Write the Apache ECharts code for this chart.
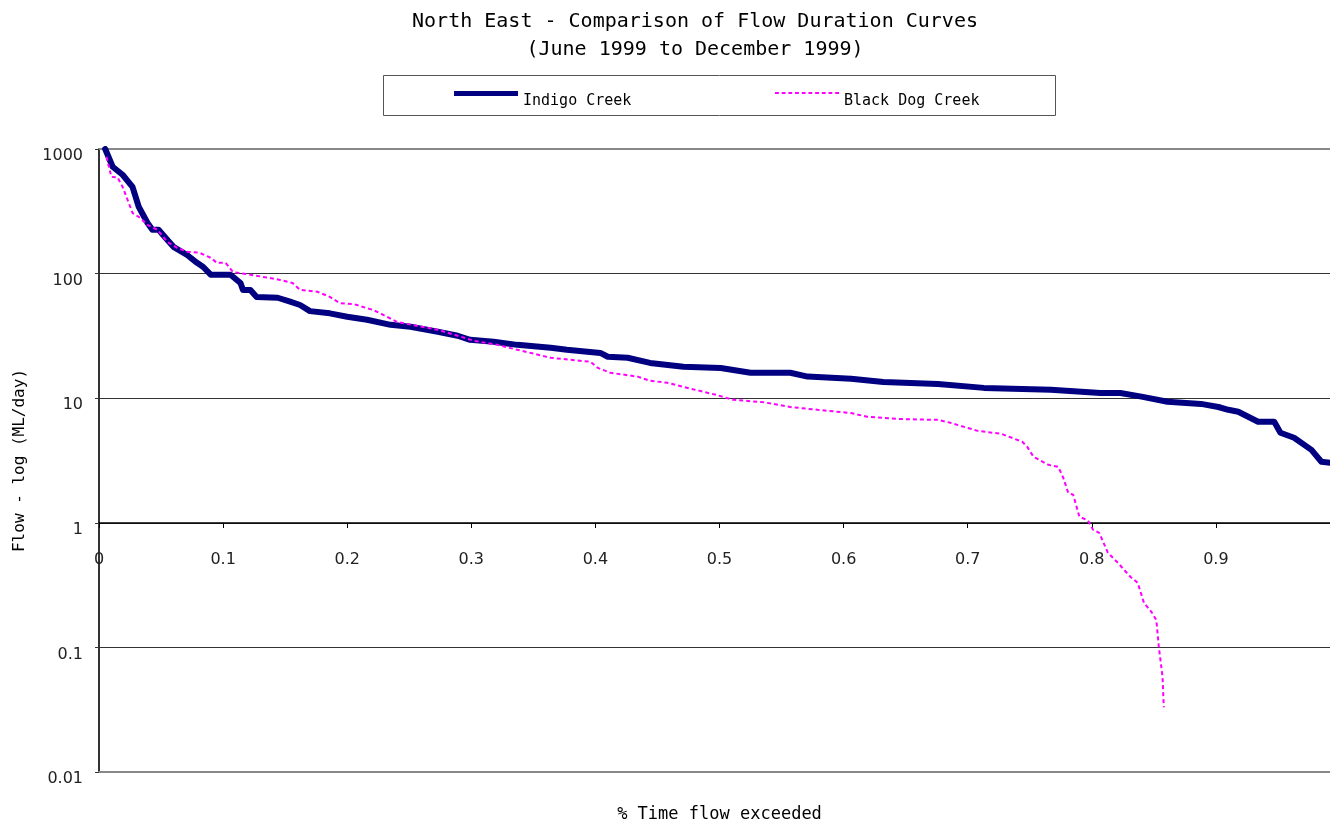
<!DOCTYPE html>
<html>
<head>
<meta charset="utf-8">
<script src="https://cdn.jsdelivr.net/npm/echarts@6/dist/echarts.min.js"></script>
<style>html,body{margin:0;padding:0;background:#fff;}#chart{width:1330px;height:826px;}</style>
</head>
<body>
<div id="chart"></div>
<script>
const titleLines = ['North East - Comparison of Flow Duration Curves', '(June 1999 to December 1999)'];
const seriesNames = ['Indigo Creek', 'Black Dog Creek'];
const yAxisName = 'Flow - log (ML/day)';
const xAxisName = '% Time flow exceeded';

const indigoX = [0.005,0.011,0.019,0.027,0.032,0.039,0.043,0.048,0.055,0.060,0.071,0.079,0.084,0.090,0.106,0.114,0.116,0.122,0.127,0.144,0.154,0.162,0.170,0.186,0.200,0.216,0.235,0.251,0.273,0.289,0.299,0.318,0.337,0.364,0.377,0.404,0.410,0.426,0.444,0.471,0.501,0.525,0.557,0.571,0.606,0.632,0.676,0.713,0.767,0.807,0.823,0.840,0.861,0.888,0.902,0.910,0.918,0.934,0.947,0.952,0.963,0.977,0.985,0.993,1.0];
const indigoY = [1000,720,621,497,344,256,225,225,187,164,141,122,113,98,98,84,74,74,65,64,59.5,56,50,48,45,42.6,38.8,37.4,34.1,31.7,29.4,28.4,26.8,25.4,24.5,23.1,21.5,21.1,19.2,17.9,17.5,16.0,16.0,14.9,14.3,13.5,13.0,12.1,11.7,11.0,11.0,10.3,9.36,9.0,8.5,8.07,7.78,6.47,6.47,5.28,4.81,3.85,3.09,3.03,2.9];

const blackDogX = [0.006,0.010,0.015,0.019,0.023,0.027,0.033,0.039,0.047,0.055,0.063,0.071,0.081,0.090,0.095,0.102,0.108,0.122,0.146,0.156,0.162,0.176,0.186,0.194,0.205,0.221,0.229,0.240,0.256,0.273,0.289,0.302,0.321,0.337,0.364,0.396,0.402,0.412,0.434,0.444,0.458,0.477,0.498,0.511,0.535,0.557,0.579,0.606,0.619,0.646,0.676,0.686,0.708,0.727,0.744,0.748,0.753,0.765,0.773,0.777,0.781,0.785,0.790,0.797,0.801,0.806,0.813,0.821,0.831,0.837,0.842,0.848,0.852,0.854,0.857,0.858];
const blackDogY = [865,598,590,497,391,307,281,246,225,180,161,150,147,134,122,122,103,98,89,84,74,71.5,65,58,57,51,46.7,41,38.1,35.4,31.7,28.9,26.8,24.5,21.1,19.6,17.5,16.0,14.9,13.8,13.3,11.9,10.6,9.7,9.3,8.5,8.07,7.6,7.1,6.8,6.7,6.35,5.47,5.18,4.47,4.07,3.39,2.92,2.81,2.30,1.74,1.68,1.12,1.04,0.88,0.83,0.574,0.478,0.369,0.33,0.228,0.193,0.166,0.101,0.058,0.033];

const yTickValues = [0.01, 0.1, 1, 10, 100, 1000];
const yTickLabels = ['0.01', '0.1', '1', '10', '100', '1000'];
const xTickValues = [0, 0.1, 0.2, 0.3, 0.4, 0.5, 0.6, 0.7, 0.8, 0.9];
const xTickLabels = ['0', '0.1', '0.2', '0.3', '0.4', '0.5', '0.6', '0.7', '0.8', '0.9'];

const mono = '"DejaVu Sans Mono", monospace';
const sans = '"DejaVu Sans", sans-serif';

function pairs(xs, ys) { return xs.map((x, i) => [x, ys[i]]); }

// dotted legend sample: dashes in a 64 x 2 box
let dotPath = 'path://';
for (let x = 0; x < 64; x += 7) dotPath += 'M' + x + ',0h4v2h-4z';

const legendText = {
  fontFamily: mono, fontSize: 15, color: '#000',
  rich: { t: { fontFamily: mono, fontSize: 15, color: '#000', padding: [16, 0, 0, 0] } }
};

const chart = echarts.init(document.getElementById('chart'), null, { renderer: 'canvas' });
chart.setOption({
  backgroundColor: '#fff',
  animation: false,
  title: {
    text: titleLines.join('\n'),
    left: 690, top: 3, textAlign: 'center',
    textStyle: { fontFamily: mono, fontSize: 20, fontWeight: 'normal', color: '#000', lineHeight: 28 }
  },
  graphic: [{
    type: 'rect', z: 1,
    shape: { x: 383.5, y: 75.5, width: 672, height: 40 },
    style: { fill: '#fff', stroke: '#555', lineWidth: 1 }
  }],
  legend: [
    { data: [{ name: seriesNames[0], icon: 'rect' }], left: 454, top: 91, padding: 0, itemWidth: 64, itemHeight: 5, z: 5,
      formatter: n => '{t|' + n + '}', textStyle: legendText },
    { data: [{ name: seriesNames[1], icon: dotPath }], left: 775, top: 92, padding: 0, itemWidth: 64, itemHeight: 2, z: 5,
      formatter: n => '{t|' + n + '}', textStyle: legendText }
  ],
  grid: { left: 99, top: 149, right: -10, bottom: 54, containLabel: false, outerBoundsMode: 'none' },
  xAxis: [
    {
      type: 'value', min: 0, max: 1, interval: 0.1, position: 'bottom', offset: -249,
      axisLine: { show: true, onZero: false, lineStyle: { color: '#000', width: 1.5 } },
      axisTick: { show: true, length: 5, lineStyle: { color: '#000' } },
      axisLabel: {
        margin: 29, fontFamily: sans, fontSize: 16, color: '#222',
        formatter: v => { const i = xTickValues.findIndex(t => Math.abs(t - v) < 1e-6); return i >= 0 ? xTickLabels[i] : ''; }
      },
      splitLine: { show: false }
    },
    {
      type: 'value', min: 0, max: 1, position: 'top',
      axisLine: { show: true, onZero: false, lineStyle: { color: '#888', width: 2 } },
      axisTick: { show: false }, axisLabel: { show: false }, splitLine: { show: false }
    },
    {
      type: 'value', min: 0, max: 1, position: 'bottom',
      name: xAxisName, nameLocation: 'middle', nameGap: 34,
      nameTextStyle: { fontFamily: mono, fontSize: 17, color: '#000' },
      axisLine: { show: true, onZero: false, lineStyle: { color: '#888', width: 2 } },
      axisTick: { show: false }, axisLabel: { show: false }, splitLine: { show: false }
    }
  ],
  yAxis: {
    type: 'log', logBase: 10, min: 0.01, max: 1000,
    name: yAxisName, nameLocation: 'middle', nameGap: 71, nameRotate: 90,
    nameTextStyle: { fontFamily: mono, fontSize: 16, color: '#000' },
    axisLine: { show: true, lineStyle: { color: '#333', width: 2 } },
    axisTick: { show: true, length: 4, lineStyle: { color: '#333' } },
    axisLabel: {
      margin: 16, fontFamily: sans, fontSize: 16, color: '#222', verticalAlign: 'top', lineHeight: 14,
      formatter: v => { const i = yTickValues.findIndex(t => Math.abs(Math.log10(t) - Math.log10(v)) < 1e-6); return i >= 0 ? yTickLabels[i] : ''; }
    },
    splitLine: { show: true, lineStyle: { color: '#333', width: 1 } },
    minorTick: { show: false }
  },
  series: [
    {
      name: seriesNames[0], type: 'line', xAxisIndex: 0, yAxisIndex: 0,
      data: pairs(indigoX, indigoY), showSymbol: false, symbol: 'none',
      lineStyle: { color: '#000080', width: 6, join: 'round', cap: 'round' },
      itemStyle: { color: '#000080' }, z: 3
    },
    {
      name: seriesNames[1], type: 'line', xAxisIndex: 0, yAxisIndex: 0,
      data: pairs(blackDogX, blackDogY), showSymbol: false, symbol: 'none',
      lineStyle: { color: '#ff00ff', width: 2, type: [4, 3] },
      itemStyle: { color: '#ff00ff' }, z: 4
    }
  ]
});
</script>
</body>
</html>
